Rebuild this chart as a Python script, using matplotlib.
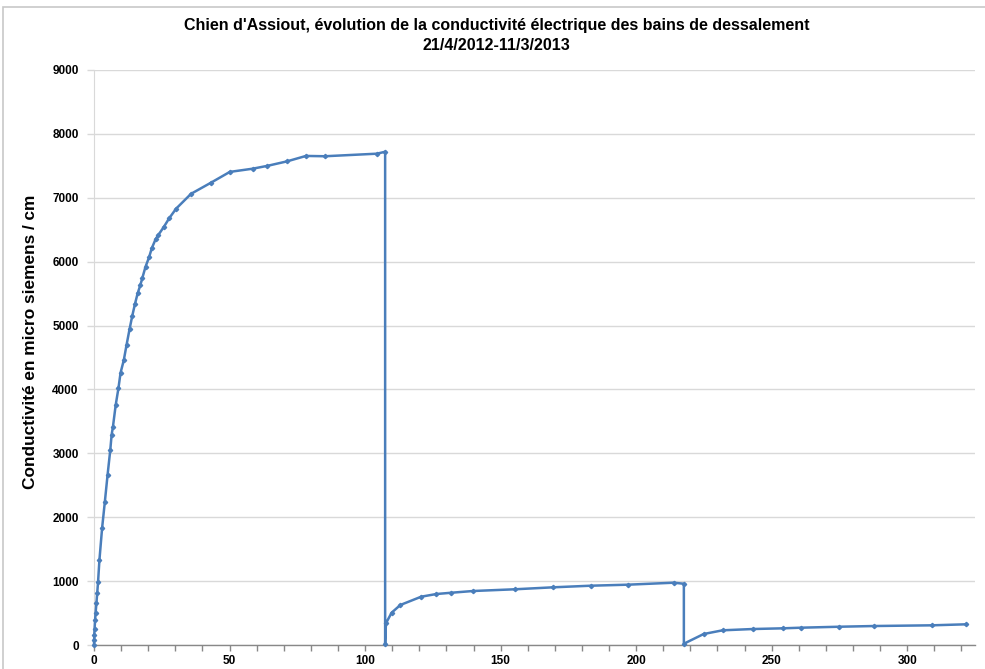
import matplotlib
matplotlib.use("Agg")
import matplotlib.pyplot as plt
from matplotlib.ticker import MultipleLocator
from matplotlib.patches import Rectangle

# Days since start of desalination
days = [0, 0.05, 0.1, 0.2, 0.4, 0.6, 0.9, 1.2, 1.5, 2.0, 3.0, 4.0, 5.0, 6.0, 6.5, 7.0, 8.0, 9.0,
        9.8, 11.0, 12.0, 13.1, 14.1, 15.1, 16.1, 17.1, 17.8, 19.0, 20.3, 21.3, 22.7, 23.7,
        25.8, 27.7, 30.3, 35.8, 43.1, 50.1, 58.5, 64.0, 71.2, 78.2, 85.2, 104.3, 107.4,
        107.4, 107.7, 109.8, 113.0, 120.7, 126.3, 131.8, 139.8, 155.2, 169.4, 183.2, 196.9,
        213.8, 217.6,
        217.6, 224.9, 231.9, 243.0, 254.0, 260.9, 275.0, 287.7, 309.0, 321.8]
# Conductivity (micro siemens / cm)
conductivity = [0, 80, 155, 245, 390, 505, 660, 820, 990, 1330, 1835, 2240, 2660, 3050, 3290, 3420, 3755, 4015,
                4261, 4460, 4695, 4940, 5149, 5336, 5504, 5634, 5739, 5920, 6067, 6208, 6349, 6416,
                6546, 6677, 6830, 7062, 7235, 7405, 7455, 7500, 7570, 7655, 7650, 7690, 7720,
                20, 340, 506, 626, 756, 798, 818, 845, 872, 903, 928, 944,
                975, 959,
                20, 172, 230, 250, 261, 271, 286, 297, 308, 324]

title = "Chien d'Assiout, évolution de la conductivité électrique des bains de dessalement\n21/4/2012-11/3/2013"
ylabel = "Conductivité en micro siemens / cm"

plt.rcParams['font.family'] = ['Liberation Sans', 'DejaVu Sans']

fig = plt.figure(figsize=(9.85, 6.69), dpi=100)
fig.patch.set_facecolor('white')
fig.patches.append(Rectangle((3 / 985, -0.1), 1.2, 1.1 - 7 / 669,
                             transform=fig.transFigure, fill=False,
                             edgecolor='#c8c8c8', linewidth=1.2))

ax = fig.add_axes([94 / 985, 1 - 645 / 669, (975 - 94) / 985, (645 - 70) / 669])

ax.plot(days, conductivity, color='#4a7ebb', linewidth=1.8, marker='D',
        markersize=2.2, markerfacecolor='#4a7ebb', markeredgecolor='#4a7ebb', zorder=3,
        clip_on=False)

ax.set_xlim(0, 325)
ax.set_ylim(0, 9000)
ax.yaxis.set_major_locator(MultipleLocator(1000))
ax.xaxis.set_major_locator(MultipleLocator(50))
ax.xaxis.set_minor_locator(MultipleLocator(10))

ax.grid(axis='y', color='#d9d9d9', linewidth=1.0)
ax.set_axisbelow(True)

for s in ['top', 'right']:
    ax.spines[s].set_visible(False)
ax.spines['left'].set_color('#d9d9d9')
ax.spines['bottom'].set_color('#888888')
ax.spines['bottom'].set_linewidth(1.0)

ax.tick_params(axis='y', which='major', length=5, color='#d9d9d9', width=1.0,
               labelsize=8.5, pad=6)
ax.tick_params(axis='x', which='both', length=4, color='#888888', width=1.0,
               labelsize=8.5, pad=3)
for lab in ax.get_xticklabels() + ax.get_yticklabels():
    lab.set_fontweight('bold')

ax.set_ylabel(ylabel, fontsize=12.4, fontweight='bold')
ax.yaxis.set_label_coords(-56 / 881, 0.527)

fig.text(0.504, 1 - 18 / 669, title, ha='center', va='top', fontsize=11.5,
         fontweight='bold', linespacing=1.4)

fig.savefig('out.png', dpi=100, facecolor='white')
